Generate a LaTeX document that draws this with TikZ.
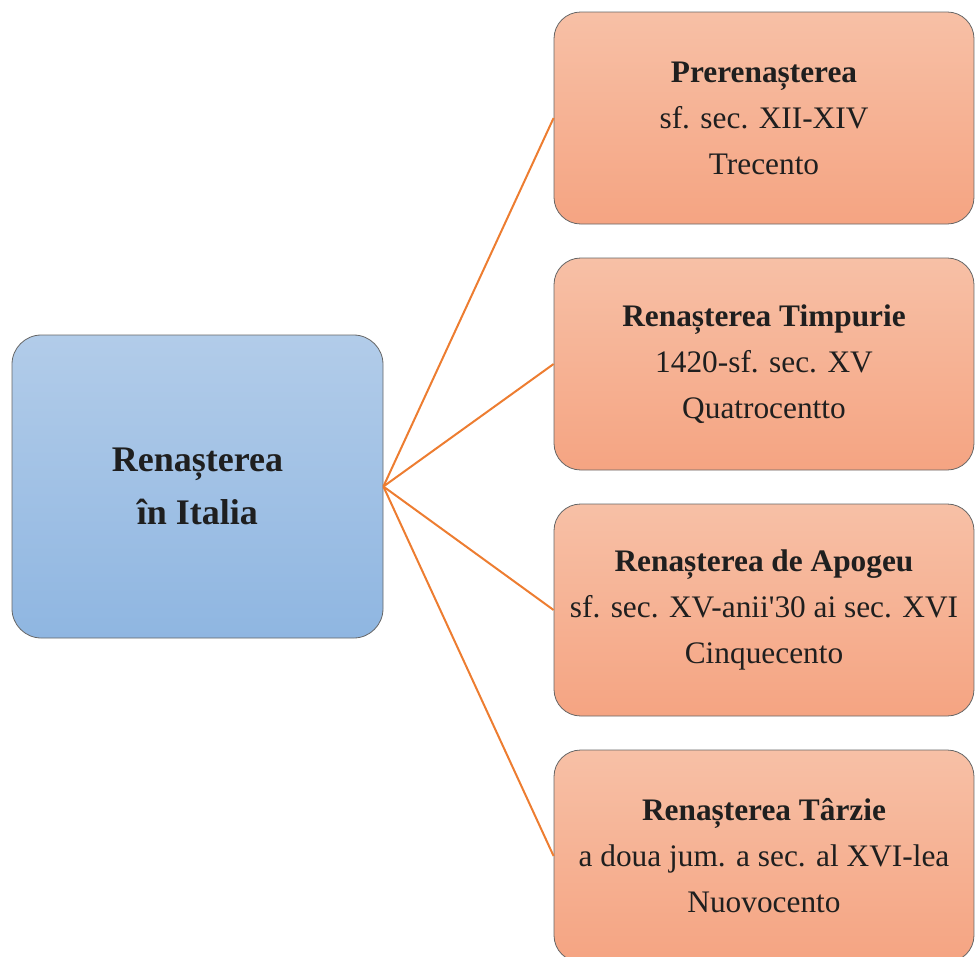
\documentclass[tikz,border=0pt]{standalone}
\usepackage{fontspec}
\setmainfont{Liberation Serif}

\definecolor{bluetop}{RGB}{178,204,233}
\definecolor{bluebot}{RGB}{143,182,225}
\definecolor{orangetop}{RGB}{247,192,166}
\definecolor{orangebot}{RGB}{245,164,130}
\definecolor{linkorange}{RGB}{237,125,49}

\begin{document}
\begin{tikzpicture}[x=0.75pt,y=-0.75pt,
  mainbox/.style={draw=gray!80!black, line width=0.6pt, rounded corners=22pt,
    top color=bluetop, bottom color=bluebot, align=center, inner sep=0pt,
    minimum width=278.25pt, minimum height=227.25pt,
    font=\fontsize{27}{39.75}\selectfont\bfseries, text=black!88},
  erabox/.style={draw=gray!80!black, line width=0.6pt, rounded corners=20pt,
    top color=orangetop, bottom color=orangebot, align=center, inner sep=0pt,
    minimum width=315pt, minimum height=159pt,
    font=\fontsize{23.5}{34.5}\selectfont, text=black!88},
  link/.style={draw=linkorange, line width=1.5pt}]

  \useasboundingbox (0,0) rectangle (975,957);
  \clip (0,0) rectangle (975,957);

  \node[mainbox] (italia) at (197.5,486.5) {Renașterea\\în Italia};

  \node[erabox] (pre) at (764,118) {\textbf{Prerenașterea}\\sf. sec. XII-XIV\\Trecento};
  \node[erabox] (timp) at (764,364) {\textbf{Renașterea Timpurie}\\1420-sf. sec. XV\\Quatrocentto};
  \node[erabox] (apog) at (764,610) {\textbf{Renașterea de Apogeu}\\sf. sec. XV-anii\textquotesingle30 ai sec. XVI\\Cinquecento};
  \node[erabox] (tarz) at (764,856) {\textbf{Renașterea Târzie}\\a doua jum. a sec. al XVI-lea\\Nuovocento};

  \draw[link] (italia.east) -- (pre.west);
  \draw[link] (italia.east) -- (timp.west);
  \draw[link] (italia.east) -- (apog.west);
  \draw[link] (italia.east) -- (tarz.west);

\end{tikzpicture}
\end{document}
